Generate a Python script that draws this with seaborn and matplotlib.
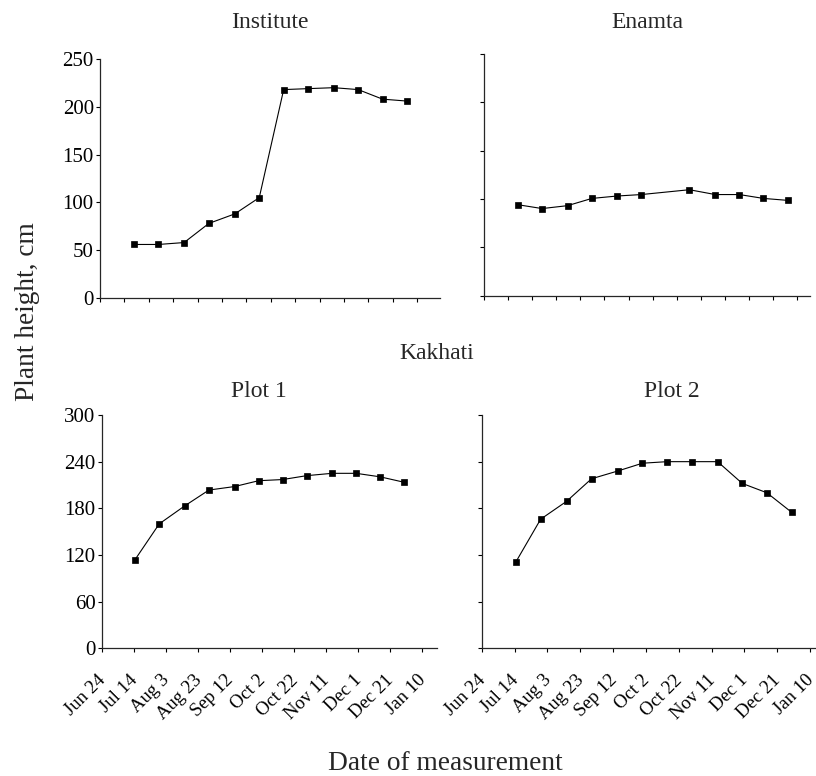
import matplotlib
matplotlib.use("Agg")
import matplotlib.pyplot as plt
import matplotlib.transforms as mtransforms
import seaborn as sns
import pandas as pd

# ---- data ----
# measurement day (days since Jun 24)
days = [20.8, 35.9, 51.7, 66.9, 82.9, 97.9, 112.9, 127.9, 143.7, 158.7, 173.7, 188.7]
institute = [56, 56, 58, 78, 88, 105, 218, 219, 220, 218, 208, 206]
enamta_days = [21.0, 36.2, 52.0, 67.2, 83.0, 98.0, 127.9, 144.0, 159.0, 174.0, 189.0]
enamta = [94, 90, 93, 100.5, 103, 104.5, 109.5, 104.5, 104.5, 100.5, 98.5]
plot1 = [114, 160, 183, 203.5, 208, 215.5, 217, 222, 225, 225, 220.5, 213.5]
plot2 = [111, 166, 189, 218, 228, 238, 240, 240, 240, 212, 200, 175]

tick_labels = ["Jun 24", "Jul 14", "Aug 3", "Aug 23", "Sep 12", "Oct 2",
               "Oct 22", "Nov 11", "Dec 1", "Dec 21", "Jan 10"]
tick_days = [0, 20, 40, 60, 80, 100, 120, 140, 160, 180, 200]
top_tick_days = [0, 15, 30, 45, 60, 75, 90, 105, 120, 135, 150, 165, 180, 195]

sns.set_style("ticks")
plt.rcParams["font.family"] = ["Liberation Serif", "DejaVu Serif"]
plt.rcParams["axes.linewidth"] = 0.9

W, H = 816, 776
fig = plt.figure(figsize=(W / 100, H / 100), dpi=100)


def add_axes(x0, x1, ytop, ybot):
    return fig.add_axes([x0 / W, 1 - ybot / H, (x1 - x0) / W, (ybot - ytop) / H])


ax_tl = add_axes(100, 440, 59, 298)
ax_tr = add_axes(484, 810, 54, 295.5)
ax_bl = add_axes(101.7, 436.7, 415, 648.3)
ax_br = add_axes(481.7, 815, 415, 648.3)

panels = [
    (ax_tl, days, institute, 250, [0, 50, 100, 150, 200, 250], 209, top_tick_days, True, False),
    (ax_tr, enamta_days, enamta, 250, [0, 50, 100, 150, 200, 250], 203, top_tick_days, False, False),
    (ax_bl, days, plot1, 300, [0, 60, 120, 180, 240, 300], 209, tick_days, True, True),
    (ax_br, days, plot2, 300, [0, 60, 120, 180, 240, 300], 203, tick_days, False, True),
]

label_shift = mtransforms.ScaledTranslation(-5 / 100, -2.5 / 100, fig.dpi_scale_trans)

for ax, xs, ys, ymax, yt, xmax, xt, ylab, xlab in panels:
    df = pd.DataFrame({"day": xs, "height": ys})
    sns.lineplot(data=df, x="day", y="height", ax=ax, color="black",
                 marker="s", markersize=4.2, markeredgecolor="black",
                 markerfacecolor="black", markeredgewidth=0.5, linewidth=0.8)
    ax.set_xlim(0, xmax)
    ax.set_ylim(0, ymax)
    ax.set_yticks(yt)
    ax.set_xticks(xt)
    ax.set_xlabel("")
    ax.set_ylabel("")
    sns.despine(ax=ax)
    ax.tick_params(axis="y", direction="out", length=3, width=0.8,
                   labelsize=15, pad=1.5, colors="black")
    ax.tick_params(axis="x", direction="out", length=3, width=0.8,
                   labelsize=13.5, pad=12, colors="black")
    if not ylab:
        ax.set_yticklabels([])
    if xlab:
        ax.set_xticklabels(tick_labels, rotation=45, ha="right", va="top",
                           rotation_mode="anchor")
        for lbl in ax.get_xticklabels():
            lbl.set_transform(lbl.get_transform() + label_shift)
    else:
        ax.set_xticklabels([])

# titles and axis labels
fig.text(270 / W, 1 - 28 / H, "Institute", ha="center", va="baseline", fontsize=17)
fig.text(647 / W, 1 - 28 / H, "Enamta", ha="center", va="baseline", fontsize=17)
fig.text(437 / W, 1 - 359 / H, "Kakhati", ha="center", va="baseline", fontsize=17)
fig.text(259 / W, 1 - 397 / H, "Plot 1", ha="center", va="baseline", fontsize=17)
fig.text(672 / W, 1 - 397 / H, "Plot 2", ha="center", va="baseline", fontsize=17)
fig.text(27.5 / W, 1 - 312 / H, "Plant height, cm", ha="center", va="center",
         rotation=90, fontsize=19.7)
fig.text(445 / W, 1 - 769.5 / H, "Date of measurement", ha="center", va="baseline",
         fontsize=19.7)

fig.savefig("out.png", dpi=100)
